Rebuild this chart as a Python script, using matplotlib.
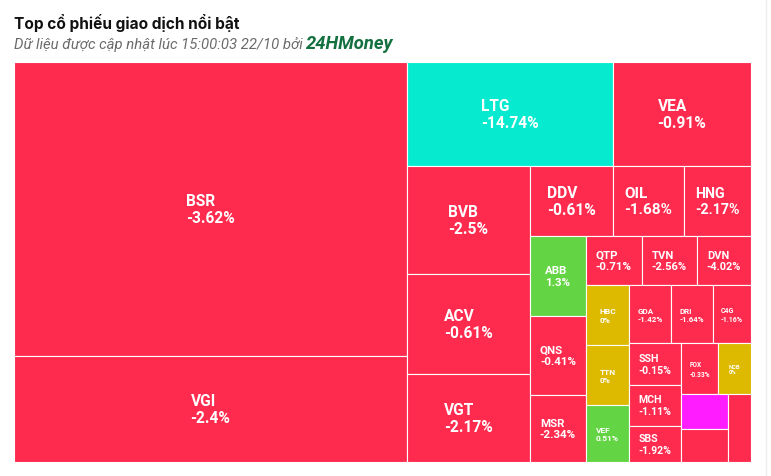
import matplotlib
matplotlib.use('Agg')
import matplotlib.pyplot as plt
from matplotlib.patches import Rectangle

# traded value per ticker (relative units), sorted desc
tickers = ['BSR', 'VGI', 'LTG', 'VEA', 'BVB', 'ACV', 'VGT', 'DDV', 'OIL', 'HNG',
           'ABB', 'QNS', 'MSR', 'QTP', 'TVN', 'DVN', 'HBC', 'TTN', 'VEF', 'GDA',
           'DRI', 'C4G', 'SSH', 'MCH', 'SBS', 'FOX', 'NCB', '', '', '']
values = [115500, 41700, 21400, 14350, 13300, 12300, 10800, 5800, 4970, 4690,
          4480, 4420, 3750, 2740, 2700, 2650, 2610, 2600, 2460, 2450,
          2440, 2240, 2150, 2140, 1900, 1850, 1700, 1600, 1560, 1540]
changes = [-3.62, -2.4, -14.74, -0.91, -2.5, -0.61, -2.17, -0.61, -1.68, -2.17,
           1.3, -0.41, -2.34, -0.71, -2.56, -4.02, 0, 0, 0.51, -1.42,
           -1.64, -1.16, -0.15, -1.11, -1.92, -0.33, 0, None, None, None]
status = ['down', 'down', 'floor', 'down', 'down', 'down', 'down', 'down', 'down', 'down',
          'up', 'down', 'down', 'down', 'down', 'down', 'ref', 'ref', 'up', 'down',
          'down', 'down', 'down', 'down', 'down', 'down', 'ref', 'ceil', 'down', 'down']

COLORS = {'down': '#FF2B4F', 'floor': '#06EBD0', 'up': '#63D443',
          'ref': '#DDB900', 'ceil': '#FF1CFF'}
LABEL_MIN = 1650      # cells smaller than this get no label
W, H = 737, 400       # canvas size of the treemap (px)


def layout(vals, width, height):
    """Highcharts-like squarified: strips alternate direction, a strip is closed
    once adding a node makes the previous node less square."""
    tot = sum(vals)
    areas = [v / tot * width * height for v in vals]
    x0, y0, w, h = 0.0, 0.0, float(width), float(height)
    vertical = True
    rects, strip = [], []

    def asp(a, b):
        return max(a / b, b / a)

    def flush(strip, x0, y0, w, h, vertical):
        s = sum(strip)
        out = []
        if vertical:
            t = s / h
            y = y0
            for a in strip:
                out.append((x0, y, t, a / t))
                y += a / t
            return out, x0 + t, y0, w - t, h
        t = s / w
        x = x0
        for a in strip:
            out.append((x, y0, a / t, t))
            x += a / t
        return out, x0, y0 + t, w, h - t

    for a in areas:
        if strip:
            side = h if vertical else w
            last = strip[-1]
            ot = sum(strip) / side
            nt = (sum(strip) + a) / side
            if asp(nt, last / nt) > asp(ot, last / ot):
                out, x0, y0, w, h = flush(strip, x0, y0, w, h, vertical)
                rects += out
                vertical = not vertical
                strip = []
        strip.append(a)
    out, x0, y0, w, h = flush(strip, x0, y0, w, h, vertical)
    rects += out
    return rects


fig = plt.figure(figsize=(7.71, 4.77), dpi=100)
ax = fig.add_axes([14 / 771, 14 / 477, W / 771, H / 477])
ax.set_xlim(0, W)
ax.set_ylim(H, 0)
ax.axis('off')

for (x, y, w, h), name, v, c, st in zip(layout(values, W, H), tickers, values, changes, status):
    ax.add_patch(Rectangle((x, y), w, h, facecolor=COLORS[st], edgecolor='white', lw=0.8))
    if v < LABEL_MIN or not name:
        continue
    px = min(15.5, (w - 10) / 4)
    ax.text(x + w / 2, y + h / 2, f"{name}\n{c:g}%", ha='center', va='center',
            multialignment='left', color='white', fontweight='bold',
            fontsize=px * 0.72, family='Roboto', linespacing=1.2)

fig.text(14 / 771, 1 - 23 / 477, "Top cổ phiếu giao dịch nổi bật", ha='left', va='center',
         fontsize=11.1, fontweight='bold', family='Inter', color='#111111')
sub = fig.text(14 / 771, 1 - 45 / 477, "Dữ liệu được cập nhật lúc 15:00:03 22/10 bởi ",
               ha='left', va='center', fontsize=10.7, style='italic', family='Roboto',
               color='#6b6b6b')
r = fig.canvas.get_renderer()
bb = sub.get_window_extent(renderer=r)
fig.text(bb.x1 / 771 / fig.dpi * 100, 1 - 44 / 477, "24HMoney", ha='left', va='center',
         fontsize=13.2, style='italic', fontweight='bold', family='Roboto', color='#13703F')

fig.add_artist(plt.Line2D([766 / 771, 766 / 771], [0, 1], color='#eeeeee', lw=1))

fig.savefig('out.png', dpi=100)
